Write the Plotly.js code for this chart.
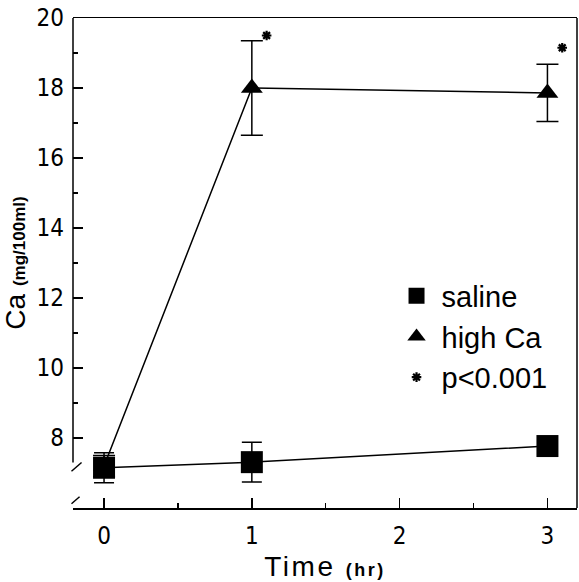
<!DOCTYPE html>
<html>
<head>
<meta charset="utf-8">
<script src="https://cdn.plot.ly/plotly-3.0.1.min.js"></script>
<style>html,body{margin:0;padding:0;background:#fff;} .xtitle{letter-spacing:2.5px;}</style>
</head>
<body>
<div id="chart" style="width:579px;height:582px;"></div>
<script>
// ---- data ----
var timeHr = [0, 1, 3];
var salineMean = [7.15, 7.31, 7.77];
var salineErr = [0.43, 0.57, 0.25];
var highCaMean = [7.2, 18.0, 17.86];
var highCaErr = [0.3, 1.35, 0.82];
var sigTimes = [1, 3];
var sigLevel = [19.5, 19.15];
var yTickVals = [8, 10, 12, 14, 16, 18, 20];
var yMinorVals = [9, 11, 13, 15, 17, 19];
var xTickVals = [0, 1, 2, 3];
var xMinorVals = [0.5, 1.5, 2.5];

var tickFont = {family: '"Liberation Sans Narrow", "DejaVu Sans Condensed", Arial, sans-serif', size: 24, color: '#000'};
var mainFont = '"Liberation Sans", Arial, sans-serif';

var lineStyle = {color: '#000', width: 1.5};

var highCaLine = {
  x: timeHr, y: highCaMean, mode: 'lines', type: 'scatter', showlegend: false,
  line: lineStyle, hoverinfo: 'skip'
};
var salineLine = {
  x: timeHr, y: salineMean, mode: 'lines', type: 'scatter', showlegend: false,
  line: lineStyle, hoverinfo: 'skip'
};
var highCa = {
  x: timeHr, y: highCaMean, name: 'high Ca', mode: 'markers',
  type: 'scatter', legendgroup: 'b', legendrank: 2,
  marker: {symbol: 'triangle-up', size: 19, color: '#000'},
  error_y: {type: 'data', array: highCaErr, visible: true, color: '#000', thickness: 1.5, width: 11}
};
var saline = {
  x: timeHr, y: salineMean, name: 'saline', mode: 'markers',
  type: 'scatter', legendgroup: 'a', legendrank: 1,
  marker: {symbol: 'square', size: 22, color: '#000'},
  error_y: {type: 'data', array: salineErr, visible: true, color: '#000', thickness: 1.5, width: 10}
};
var sig = {
  x: sigTimes.map(function (t) { return t + 0.1; }), y: sigLevel,
  name: 'p<0.001', mode: 'markers', type: 'scatter', legendgroup: 'c', legendrank: 3,
  marker: {symbol: 'asterisk-open', size: 8, color: '#000', line: {color: '#000', width: 2.2}}
};

var layout = {
  width: 579, height: 582,
  margin: {l: 73, r: 2, t: 18, b: 74},
  paper_bgcolor: '#fff', plot_bgcolor: '#fff',
  showlegend: true,
  legend: {
    x: 0.632, y: 0.485, xanchor: 'left', yanchor: 'top',
    bgcolor: 'rgba(0,0,0,0)', borderwidth: 0,
    font: {family: mainFont, size: 29, color: '#000'},
    tracegroupgap: 0, traceorder: 'grouped', itemwidth: 40
  },
  xaxis: {
    range: [-0.21, 3.2], tickmode: 'array', tickvals: xTickVals,
    ticks: 'inside', ticklen: 10, tickwidth: 1.5, tickcolor: '#000',
    minor: {tickmode: 'array', tickvals: xMinorVals, ticks: 'inside', ticklen: 5, tickwidth: 1.2, tickcolor: '#000'},
    showline: true, linecolor: '#000', linewidth: 1.5, mirror: true,
    showgrid: false, zeroline: false,
    tickfont: tickFont, ticklabelstandoff: 6,
    title: {text: 'Time <b><span style="font-size:18px">(hr)</span></b>', font: {family: mainFont, size: 28, color: '#000'}, standoff: 16}
  },
  yaxis: {
    range: [6, 20], tickmode: 'array', tickvals: yTickVals,
    ticks: 'inside', ticklen: 10, tickwidth: 1.5, tickcolor: '#000',
    minor: {tickmode: 'array', tickvals: yMinorVals, ticks: 'inside', ticklen: 5, tickwidth: 1.2, tickcolor: '#000'},
    showline: false, showgrid: false, zeroline: false, automargin: true,
    tickfont: tickFont, ticklabelstandoff: 8,
    title: {text: 'Ca <b><span style="font-size:17px">(mg/100ml)</span></b>', font: {family: mainFont, size: 28, color: '#000'}, standoff: 5}
  },
  shapes: [
    {type: 'line', xref: 'paper', yref: 'y', x0: 0, x1: 0, y0: 7.3, y1: 20, line: {color: '#000', width: 1.5}},
    {type: 'line', xref: 'paper', yref: 'paper', x0: 1, x1: 1, y0: 0, y1: 1, line: {color: '#000', width: 1.5}},
    {type: 'line', xref: 'paper', yref: 'y', x0: -0.003, x1: 0.017, y0: 7.05, y1: 7.3, line: {color: '#000', width: 1.5}},
    {type: 'line', xref: 'paper', yref: 'y', x0: -0.003, x1: 0.013, y0: 6.12, y1: 6.32, line: {color: '#000', width: 1.5}}
  ]
};

Plotly.newPlot('chart', [highCaLine, salineLine, highCa, saline, sig], layout, {displayModeBar: false, staticPlot: true});
</script>
</body>
</html>
